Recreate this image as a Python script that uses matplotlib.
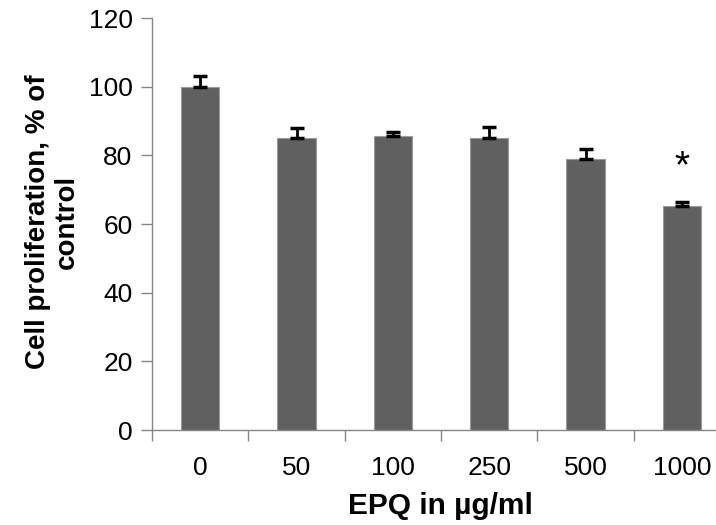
import matplotlib
matplotlib.use("Agg")
import matplotlib.pyplot as plt

doses = ["0", "50", "100", "250", "500", "1000"]
values = [100, 85, 85.7, 85, 79, 65.3]
errors = [3.0, 3.0, 1.2, 3.3, 2.7, 1.2]
yticks = [0, 20, 40, 60, 80, 100, 120]

plt.rcParams['font.family'] = ['Liberation Sans', 'DejaVu Sans']

fig = plt.figure(figsize=(7.16, 5.25), dpi=100)
# plot area runs a little past the right edge, as in the reference
ax = fig.add_axes([152 / 716, 95 / 525, 578 / 716, 412 / 525])

x = range(len(doses))
ax.bar(x, values, width=0.4, color='#606060', edgecolor='#9a9a9a', linewidth=0.8, zorder=2)
ax.errorbar(x, values, yerr=[[0] * len(errors), errors], fmt='none', ecolor='black',
            elinewidth=2, capsize=5, capthick=2.5, zorder=3)

ax.text(5, 76.5, '*', fontsize=28, ha='center', va='center')

ax.set_xlim(-0.5, 5.5)
ax.set_ylim(0, 120)
ax.set_yticks(yticks)
ax.set_xticks([i - 0.5 for i in range(len(doses) + 1)], minor=False)
ax.set_xticklabels([])
ax.set_xticks(list(x), minor=True)
ax.set_xticklabels(doses, minor=True)
ax.tick_params(axis='x', which='minor', length=0, labelsize=19, pad=19)
ax.tick_params(axis='x', which='major', length=8, color='#868686', width=1)
ax.tick_params(axis='y', length=8, color='#868686', width=1, labelsize=19, pad=6)

for s in ['top', 'right']:
    ax.spines[s].set_visible(False)
for s in ['left', 'bottom']:
    ax.spines[s].set_color('#868686')
    ax.spines[s].set_linewidth(1)

ax.set_xlabel('EPQ in µg/ml', fontsize=21.5, fontweight='bold')
ax.xaxis.set_label_coords(288 / 578, -62 / 412)
ax.set_ylabel('Cell proliferation, % of\ncontrol', fontsize=20, fontweight='bold',
              linespacing=1.15, ha='center')
ax.yaxis.set_label_coords(-72 / 578, (430 - 222) / 412)

fig.savefig('out.png', dpi=100)
plt.close(fig)
